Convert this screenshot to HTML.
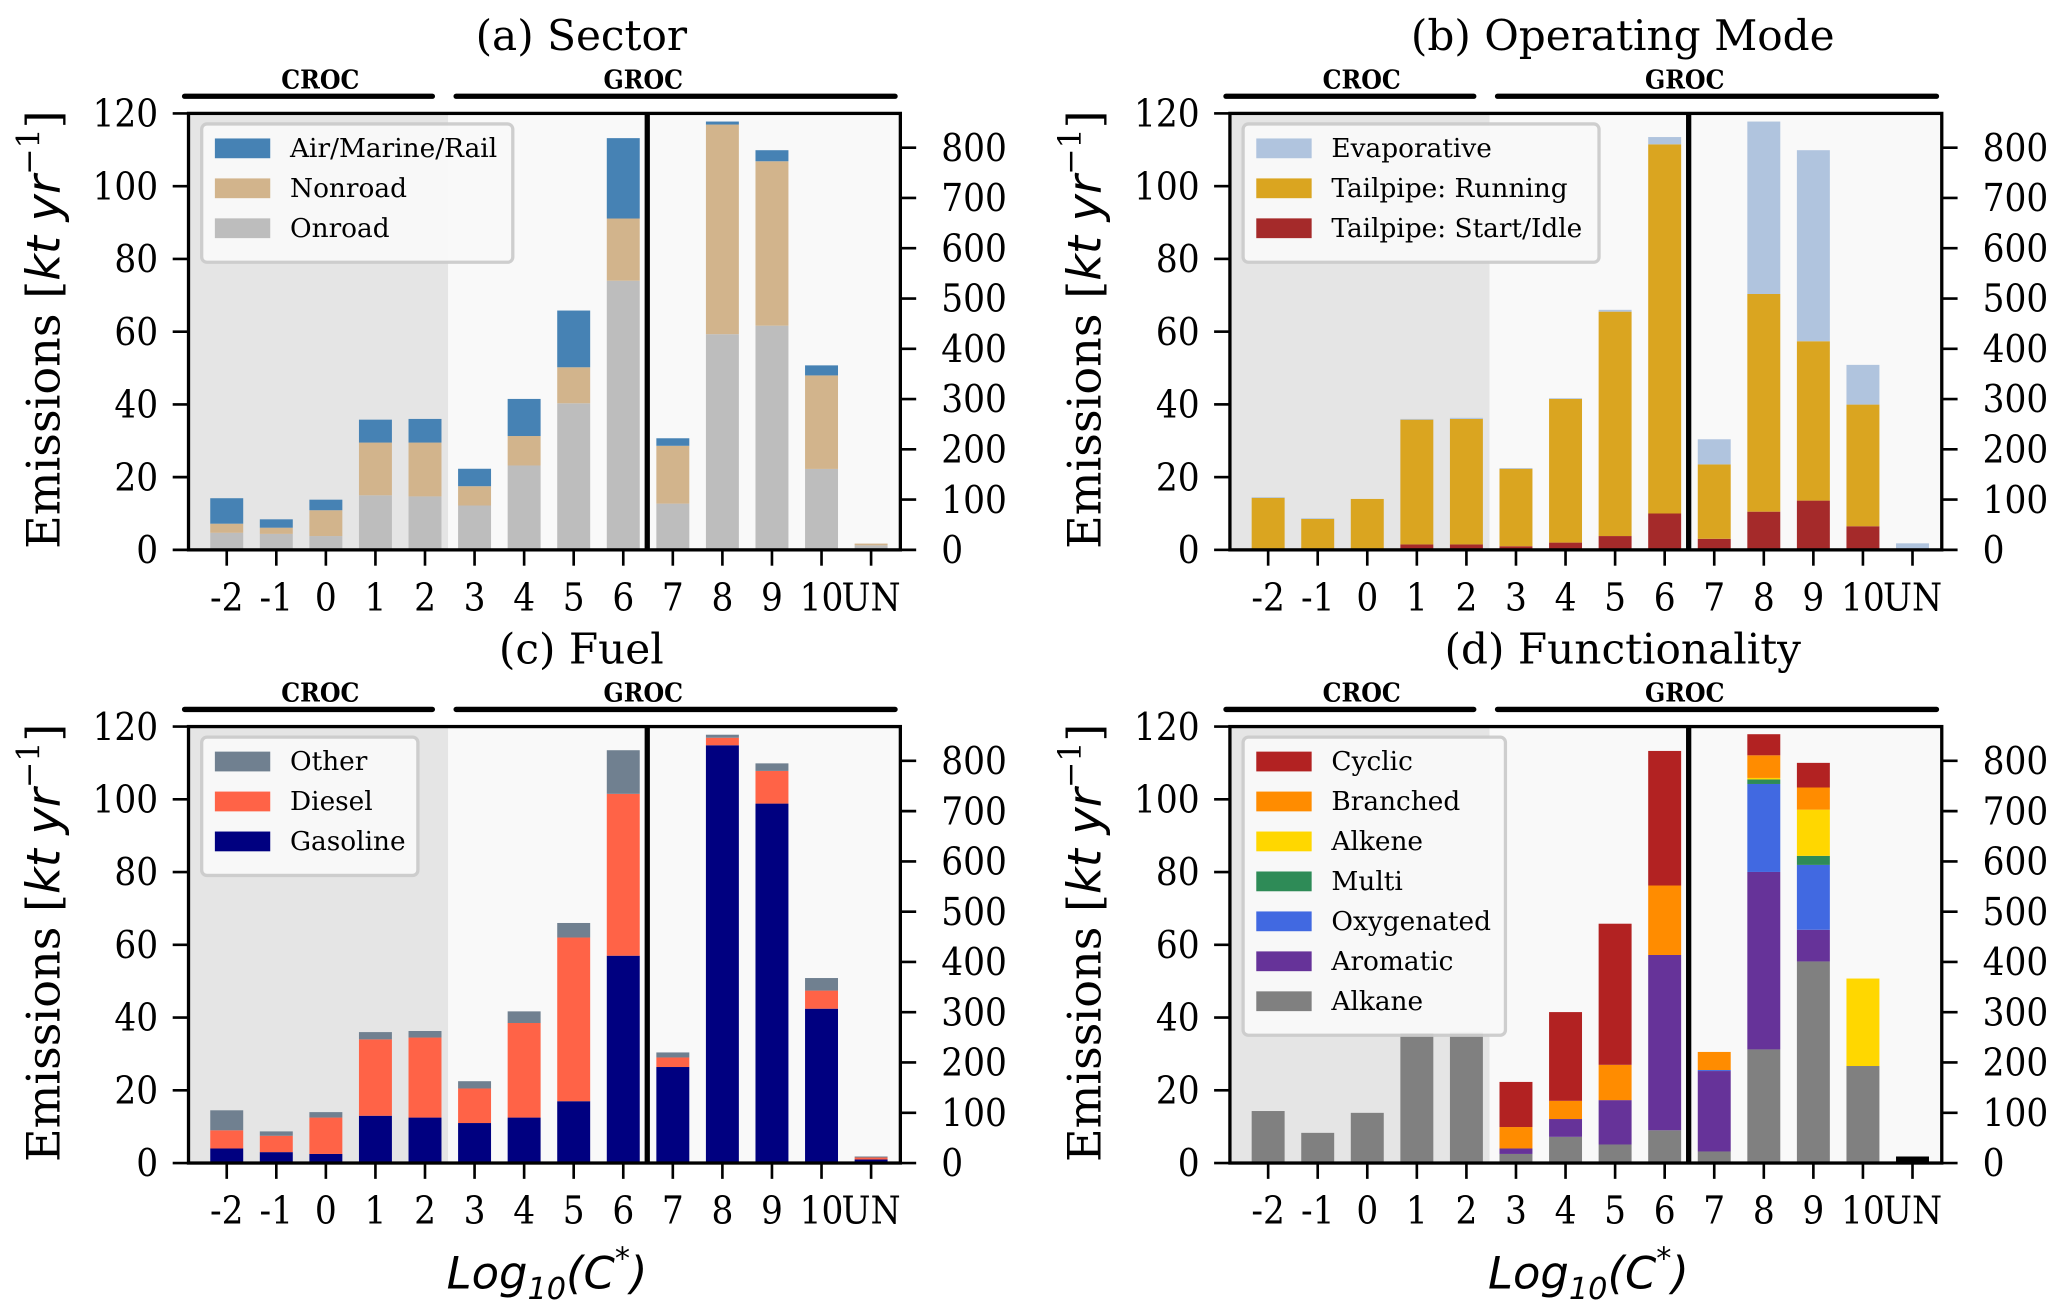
<!DOCTYPE html>
<html><head><meta charset="utf-8"><style>
html,body{margin:0;padding:0;background:#fff;}
svg{display:block;font-family:"DejaVu Serif","Liberation Serif",serif;}
.tk{font-family:"DejaVu Serif Condensed","DejaVu Serif","Liberation Serif",serif;font-stretch:condensed;}
</style></head><body>
<svg id="fig" width="2067" height="1316" viewBox="0 0 1568 998" preserveAspectRatio="none" xmlns="http://www.w3.org/2000/svg"></svg>
<script>
const categories = ["-2","-1","0","1","2","3","4","5","6","7","8","9","10","UN"];
const leftTicks = [0,20,40,60,80,100,120];
const rightTicks = [0,100,200,300,400,500,600,700,800];
// Values: first 9 categories in left-axis units (kt/yr), last 5 in right-axis units
// (a) Sector
const sectorOnroad  = [4.7,4.4,3.8,15,14.7,12.2,23.2,40.3,74, 92,429,446,161,9];
const sectorNonroad = [2.5,1.7,7.1,14.5,14.8,5.3,8.1,9.9,17.1, 115,417,327,186,3.5];
const sectorAir     = [7,2.3,2.9,6.3,6.5,4.8,10.2,15.6,22.1, 15,6,22,20,0];
// (b) Operating mode
const modeStart   = [0.3,0.2,0.3,1.5,1.5,1,2,3.8,10, 22,76,98,47,0];
const modeRunning = [14,8.3,13.7,34.3,34.5,21.3,39.5,61.7,101.5, 148,433,317,242,0];
const modeEvap    = [0.2,0.2,0,0.2,0.3,0.2,0.2,0.5,2, 50,343,380,79,13];
// (c) Fuel
const fuelGasoline = [4,3,2.5,13,12.5,11,12.5,17,57, 191,831,715,307,7];
const fuelDiesel   = [5,4.5,10,21,22,9.5,26,45,44.5, 19,15,65,36,4];
const fuelOther    = [5.5,1.2,1.5,2,1.8,2,3.2,4,12, 10,6,15,25,2];
// (d) Functionality
const funcAlkane     = [14.3,8.3,13.8,35.8,36.1,2.5,7.2,5.1,9, 23,226,401,193,0];
const funcAromatic   = [0,0,0,0,0,1.5,4.9,12.2,48.2, 160,353,63,0,0];
const funcOxygenated = [0,0,0,0,0,0,0,0,0, 2,175,129,0,0];
const funcMulti      = [0,0,0,0,0,0,0,0,0, 0,9,18,0,0];
const funcAlkene     = [0,0,0,0,0,0,0,0,0, 0,3,92,174,0];
const funcBranched   = [0,0,0,0,0,5.9,5,9.7,19.1, 36,45,44,0,0];
const funcCyclic     = [0,0,0,0,0,12.4,24.4,38.8,37, 0,42,49,0,0];
const funcUnknown    = [0,0,0,0,0,0,0,0,0, 0,0,0,0,13];

const NS="http://www.w3.org/2000/svg";
const svg=document.getElementById('fig');
function mk(tag,attrs,parent){const e=document.createElementNS(NS,tag);for(const k in attrs)e.setAttribute(k,attrs[k]);(parent||svg).appendChild(e);return e;}

const panels=[
 {ox:0,oy:0,title:"(a) Sector",key:"sector",series:[
   {name:"Onroad",vals:sectorOnroad,color:"#bdbdbd"},
   {name:"Nonroad",vals:sectorNonroad,color:"#d2b48c"},
   {name:"Air/Marine/Rail",vals:sectorAir,color:"#4682b4"}],
  legend:{w:236}},
 {ox:790,oy:0,title:"(b) Operating Mode",key:"mode",series:[
   {name:"Tailpipe: Start/Idle",vals:modeStart,color:"#a52a2a"},
   {name:"Tailpipe: Running",vals:modeRunning,color:"#daa520"},
   {name:"Evaporative",vals:modeEvap,color:"#b0c4de"}],
  legend:{w:270}},
 {ox:0,oy:465,title:"(c) Fuel",key:"fuel",xlabel:true,series:[
   {name:"Gasoline",vals:fuelGasoline,color:"#000080"},
   {name:"Diesel",vals:fuelDiesel,color:"#ff6347"},
   {name:"Other",vals:fuelOther,color:"#708090"}],
  legend:{w:164}},
 {ox:790,oy:465,title:"(d) Functionality",key:"func",xlabel:true,series:[
   {name:"Alkane",vals:funcAlkane,color:"#808080"},
   {name:"Aromatic",vals:funcAromatic,color:"#663399"},
   {name:"Oxygenated",vals:funcOxygenated,color:"#4169e1"},
   {name:"Multi",vals:funcMulti,color:"#2e8b57"},
   {name:"Alkene",vals:funcAlkene,color:"#ffd700"},
   {name:"Branched",vals:funcBranched,color:"#ff8c00"},
   {name:"Cyclic",vals:funcCyclic,color:"#b22222"},
   {name:"Unknown",vals:funcUnknown,color:"#000000",nolegend:true}],
  legend:{w:199}}
];

panels.forEach(p=>{
  const L=143+p.ox,R=683+p.ox,T=86+p.oy,B=417+p.oy;
  const g=mk('g',{});
  
  
  const yL=v=>B-v*(B-T)/120;
  const yR=v=>B-v*(B-112-p.oy)/800;
  const xC=i=>172+p.ox+i*37.6;
  const bw=25;
  const bg1=mk('rect',{x:L,y:T,width:197,height:B-T,fill:'#e5e5e5'},g);
  
  
  const bg2=mk('rect',{x:L+197,y:T,width:R-L-197,height:B-T,fill:'#f9f9f9'},g);
  
  
  categories.forEach((c,i)=>{
    const yf=i<9?yL:yR;
    let cum=0;
    p.series.forEach(s=>{
      const v=s.vals[i];
      if(v<=0)return;
      const r=mk('rect',{x:xC(i)-bw/2,y:yf(cum+v),width:bw,height:yf(cum)-yf(cum+v),fill:s.color},g);
      
      
      cum+=v;
    });
  });
  mk('rect',{x:L,y:T,width:R-L,height:B-T,fill:'none',stroke:'#000','stroke-width':2.5},g);
  const dv=mk('line',{x1:491+p.ox,x2:491+p.ox,y1:T,y2:B,stroke:'#000','stroke-width':4},g);
  
  
  leftTicks.forEach(t=>{
    mk('line',{x1:L-12,x2:L,y1:yL(t),y2:yL(t),stroke:'#000','stroke-width':2},g);
    const tx=mk('text',{x:L-23,y:yL(t)+10,'text-anchor':'end','font-size':29,'class':'tk'},g);
    tx.textContent=t;
    
    
  });
  rightTicks.forEach(t=>{
    mk('line',{x1:R,x2:R+12,y1:yR(t),y2:yR(t),stroke:'#000','stroke-width':2},g);
    const tx=mk('text',{x:R+31,y:yR(t)+10,'font-size':29,'class':'tk'},g);
    tx.textContent=t;
    
    
  });
  categories.forEach((c,i)=>{
    mk('line',{x1:xC(i),x2:xC(i),y1:B,y2:B+12,stroke:'#000','stroke-width':2},g);
    const tx=mk('text',{x:xC(i),y:B+46,'text-anchor':'middle','font-size':29,'class':'tk'},g);
    tx.textContent=c;
    
    
  });
  const ti=mk('text',{x:441+p.ox,y:38+p.oy,'text-anchor':'middle','font-size':32},g);
  ti.textContent=p.title;
  
  
  [[140,328,243,'CROC'],[346,679,488,'GROC']].forEach(b=>{
    mk('line',{x1:b[0]+p.ox,x2:b[1]+p.ox,y1:73+p.oy,y2:73+p.oy,stroke:'#000','stroke-width':4,'stroke-linecap':'round'},g);
    const tx=mk('text',{x:b[2]+p.ox,y:67+p.oy,'text-anchor':'middle','font-size':20,'font-weight':'bold','class':'tk'},g);
    tx.textContent=b[3];
    
    
  });
  const yl=mk('text',{transform:`translate(${45+p.ox},${250+p.oy}) rotate(-90)`,'text-anchor':'middle','font-size':35},g);
  
  
  yl.innerHTML='Emissions [<tspan font-style="italic" font-family="DejaVu Sans,sans-serif">kt yr</tspan><tspan font-size="24" dy="-15">−1</tspan><tspan dy="15">]</tspan>';
  if(p.xlabel){
    const xl=mk('text',{x:415+p.ox,y:977,'text-anchor':'middle','font-size':34,'font-style':'italic','font-family':'"DejaVu Sans",sans-serif'},g);
    
    
    xl.innerHTML='Log<tspan font-size="23" dy="8">10</tspan><tspan dy="-8">(C</tspan><tspan font-size="23" dy="-15">*</tspan><tspan dy="15">)</tspan>';
  }
  const items=p.series.filter(s=>!s.nolegend).slice().reverse();
  const lg=mk('g',{},g);
  
  
  const lx=L+10,ly=T+8;
  mk('rect',{x:lx,y:ly,width:p.legend.w,height:items.length*30.3+14,rx:4,fill:'#fafafa',stroke:'#cccccc','stroke-width':2.5,opacity:0.95},lg);
  items.forEach((s,k)=>{
    const yy=ly+18+k*30.3;
    const pr=mk('rect',{x:lx+10,y:yy-7,width:42,height:15,fill:s.color},lg);
    
    
    const tx=mk('text',{x:lx+67,y:yy+7,'font-size':20},lg);
    tx.textContent=s.name;
    
    
  });
});
</script>
</body></html>
